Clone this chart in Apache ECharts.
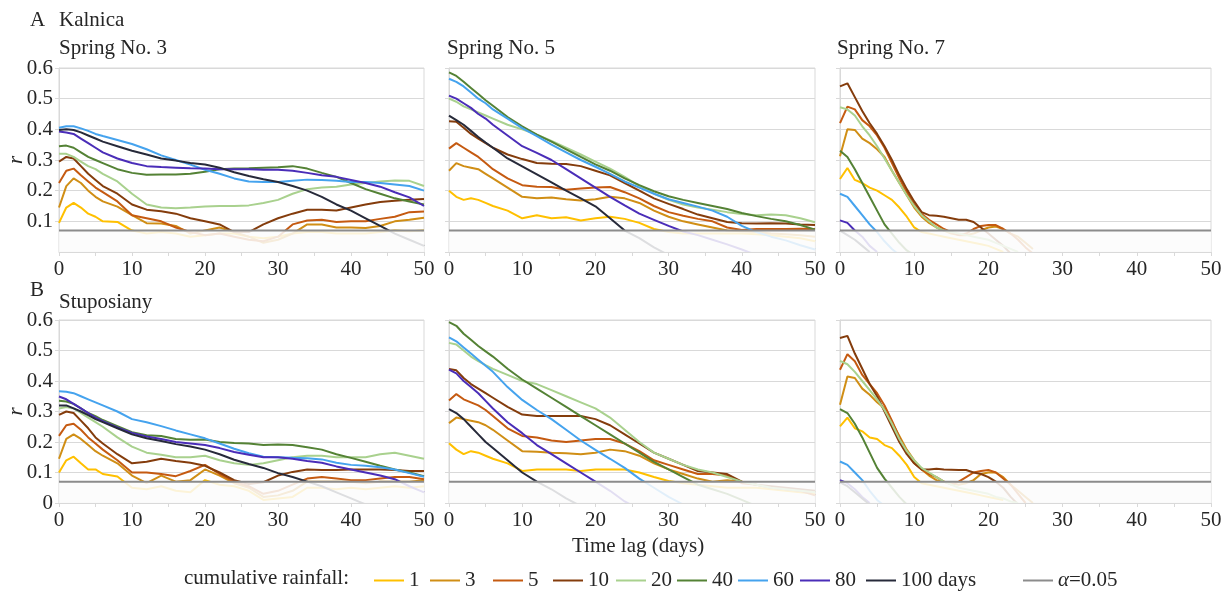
<!DOCTYPE html>
<html>
<head>
<meta charset="utf-8">
<script src="https://cdn.jsdelivr.net/npm/echarts@6/dist/echarts.min.js"></script>
<style>
  html, body { margin: 0; padding: 0; background: #fff; }
  #container { width: 1230px; height: 592px; }
</style>
</head>
<body>
<div id="container"></div>
<script>
// time lag (days) sampled for the long panels and the short ones
const wideDays = [0, 1, 2, 3, 4, 5, 6, 8, 10, 12, 14, 16, 18, 20, 22, 24, 26, 28, 30, 32, 34, 36, 38, 40, 42, 44, 46, 48, 50];
const narrowDays = [0, 1, 2, 3, 4, 5, 6, 7, 8, 9, 10, 11, 12, 13, 14, 15, 16, 17, 18, 19, 20, 21, 22, 23, 24, 25, 26];

const rainfallNames = ['1', '3', '5', '10', '20', '40', '60', '80', '100 days'];
const rainfallColors = ['#FFC000', '#D08E15', '#C55A11', '#843C0C', '#A9D18E', '#548235', '#45A3EE', '#4A2DB8', '#272A3A'];
const alphaName = 'α=0.05';
const alphaLevel = 0.07;

// rows: 1, 3, 5, 10, 20, 40, 60, 80, 100 days
const kalnicaNo3 = [
    [0.095,0.145,0.16,0.145,0.125,0.115,0.1,0.098,0.07,0.06,0.065,0.06,0.05,0.055,0.06,0.06,0.05,0.045,0.05,0.06,0.065,0.065,0.06,0.06,0.06,0.065,0.07,0.068,0.07],
    [0.145,0.215,0.24,0.225,0.2,0.18,0.165,0.148,0.12,0.094,0.093,0.085,0.06,0.07,0.08,0.065,0.05,0.03,0.04,0.06,0.09,0.09,0.08,0.08,0.078,0.085,0.1,0.105,0.112],
    [0.225,0.265,0.272,0.25,0.23,0.21,0.195,0.165,0.12,0.11,0.1,0.08,0.065,0.055,0.06,0.05,0.04,0.035,0.05,0.09,0.103,0.105,0.098,0.1,0.1,0.108,0.115,0.13,0.132],
    [0.295,0.31,0.305,0.28,0.255,0.235,0.215,0.19,0.155,0.138,0.133,0.125,0.11,0.1,0.09,0.065,0.065,0.09,0.11,0.125,0.138,0.138,0.135,0.145,0.155,0.163,0.167,0.17,0.173],
    [0.32,0.32,0.31,0.295,0.28,0.27,0.255,0.23,0.19,0.155,0.145,0.143,0.145,0.148,0.15,0.15,0.152,0.16,0.17,0.19,0.205,0.21,0.213,0.22,0.225,0.23,0.233,0.232,0.215],
    [0.345,0.347,0.34,0.325,0.31,0.3,0.29,0.27,0.258,0.252,0.253,0.253,0.255,0.262,0.27,0.272,0.273,0.275,0.276,0.28,0.272,0.258,0.245,0.225,0.205,0.19,0.175,0.165,0.155],
    [0.405,0.41,0.41,0.403,0.395,0.385,0.378,0.365,0.352,0.335,0.315,0.3,0.285,0.268,0.255,0.24,0.23,0.228,0.228,0.232,0.236,0.235,0.232,0.228,0.228,0.225,0.22,0.215,0.2],
    [0.393,0.39,0.385,0.37,0.355,0.34,0.325,0.305,0.29,0.28,0.277,0.275,0.273,0.272,0.27,0.27,0.27,0.268,0.268,0.265,0.258,0.25,0.245,0.235,0.225,0.213,0.195,0.178,0.15],
    [0.398,0.4,0.398,0.39,0.38,0.37,0.36,0.345,0.33,0.318,0.305,0.298,0.29,0.285,0.275,0.26,0.248,0.237,0.228,0.215,0.2,0.18,0.155,0.135,0.11,0.085,0.06,0.04,0.02]
];

const kalnicaNo5 = [
    [0.2,0.18,0.17,0.175,0.17,0.16,0.15,0.135,0.11,0.12,0.11,0.113,0.103,0.11,0.115,0.108,0.095,0.075,0.065,0.06,0.06,0.06,0.06,0.06,0.058,0.055,0.05,0.045,0.035],
    [0.265,0.29,0.28,0.275,0.27,0.255,0.24,0.21,0.18,0.175,0.178,0.172,0.168,0.172,0.18,0.175,0.16,0.135,0.115,0.1,0.09,0.08,0.07,0.068,0.065,0.06,0.058,0.055,0.05],
    [0.337,0.355,0.34,0.325,0.31,0.29,0.27,0.24,0.218,0.213,0.212,0.203,0.207,0.21,0.212,0.195,0.175,0.15,0.13,0.118,0.108,0.1,0.08,0.072,0.075,0.075,0.075,0.076,0.075],
    [0.426,0.425,0.405,0.385,0.37,0.355,0.34,0.318,0.303,0.29,0.288,0.287,0.28,0.265,0.25,0.225,0.2,0.175,0.157,0.14,0.122,0.11,0.098,0.094,0.093,0.094,0.093,0.09,0.088],
    [0.5,0.49,0.475,0.465,0.455,0.445,0.435,0.415,0.4,0.383,0.362,0.34,0.318,0.295,0.272,0.245,0.215,0.19,0.17,0.155,0.145,0.138,0.13,0.124,0.12,0.122,0.12,0.11,0.097],
    [0.586,0.574,0.555,0.535,0.515,0.495,0.477,0.44,0.41,0.383,0.36,0.335,0.31,0.286,0.265,0.24,0.218,0.198,0.182,0.17,0.16,0.15,0.14,0.127,0.117,0.108,0.1,0.088,0.073],
    [0.565,0.555,0.54,0.52,0.5,0.485,0.465,0.435,0.404,0.378,0.35,0.325,0.3,0.278,0.255,0.23,0.21,0.19,0.172,0.16,0.148,0.135,0.115,0.085,0.065,0.05,0.038,0.022,0.008],
    [0.51,0.5,0.485,0.47,0.45,0.435,0.415,0.38,0.345,0.323,0.3,0.27,0.24,0.21,0.18,0.152,0.125,0.105,0.085,0.067,0.055,0.04,0.025,0.008,-0.01],
    [0.445,0.43,0.415,0.395,0.375,0.357,0.34,0.305,0.279,0.253,0.227,0.2,0.175,0.149,0.11,0.07,0.045,0.015,-0.01]
];

const kalnicaNo7 = [
    [0.238,0.274,0.235,0.225,0.21,0.2,0.185,0.17,0.145,0.115,0.08,0.065,0.06,0.055,0.05,0.045,0.04,0.035,0.03,0.025,0.02,0.01,0.0],
    [0.312,0.4,0.398,0.37,0.355,0.335,0.31,0.265,0.225,0.185,0.145,0.115,0.095,0.08,0.07,0.06,0.055,0.055,0.06,0.07,0.08,0.083,0.075,0.06,0.05,0.03,0.01],
    [0.42,0.474,0.465,0.43,0.41,0.38,0.34,0.29,0.24,0.195,0.155,0.125,0.105,0.09,0.075,0.065,0.055,0.06,0.075,0.085,0.088,0.088,0.075,0.06,0.04,0.015,-0.005],
    [0.54,0.55,0.505,0.46,0.42,0.385,0.345,0.3,0.25,0.205,0.165,0.13,0.12,0.118,0.115,0.11,0.105,0.105,0.098,0.08,0.06,0.04,0.02,-0.005],
    [0.472,0.465,0.445,0.41,0.38,0.345,0.305,0.265,0.225,0.185,0.15,0.12,0.1,0.08,0.07,0.065,0.06,0.055,0.05,0.045,0.04,0.03,0.02,0.01,0.0],
    [0.33,0.31,0.27,0.225,0.18,0.135,0.09,0.06,0.03,0.005,-0.01],
    [0.19,0.18,0.15,0.12,0.09,0.065,0.035,0.01,-0.01],
    [0.103,0.095,0.07,0.05,0.02,0.0],
    [0.07,0.055,0.04,0.02,0.0]
];

const stuposianyNo3 = [
    [0.1,0.14,0.152,0.13,0.11,0.11,0.095,0.087,0.05,0.045,0.055,0.04,0.035,0.075,0.06,0.055,0.04,0.01,0.015,0.02,0.05,0.05,0.045,0.05,0.045,0.05,0.055,0.05,0.055],
    [0.145,0.21,0.225,0.21,0.19,0.17,0.155,0.13,0.09,0.065,0.09,0.07,0.075,0.11,0.09,0.065,0.05,0.02,0.025,0.04,0.07,0.07,0.07,0.07,0.065,0.07,0.07,0.07,0.075],
    [0.22,0.255,0.26,0.24,0.215,0.195,0.175,0.14,0.1,0.1,0.095,0.088,0.105,0.125,0.095,0.07,0.055,0.03,0.04,0.06,0.08,0.085,0.08,0.075,0.075,0.08,0.085,0.085,0.078],
    [0.289,0.3,0.295,0.27,0.245,0.215,0.195,0.16,0.13,0.135,0.145,0.138,0.132,0.122,0.1,0.075,0.062,0.068,0.09,0.102,0.11,0.108,0.108,0.11,0.11,0.11,0.108,0.105,0.105],
    [0.31,0.315,0.31,0.295,0.28,0.265,0.25,0.215,0.185,0.165,0.158,0.15,0.15,0.155,0.14,0.13,0.125,0.13,0.14,0.15,0.155,0.155,0.15,0.15,0.15,0.16,0.165,0.155,0.145],
    [0.335,0.333,0.325,0.31,0.295,0.285,0.272,0.252,0.232,0.222,0.22,0.21,0.207,0.208,0.2,0.197,0.195,0.19,0.192,0.19,0.183,0.175,0.16,0.148,0.135,0.122,0.11,0.1,0.088],
    [0.366,0.365,0.36,0.35,0.34,0.33,0.32,0.3,0.275,0.265,0.252,0.238,0.225,0.212,0.195,0.178,0.163,0.152,0.15,0.148,0.147,0.143,0.132,0.125,0.122,0.117,0.11,0.098,0.086],
    [0.349,0.34,0.325,0.31,0.295,0.28,0.268,0.248,0.23,0.218,0.21,0.2,0.195,0.19,0.18,0.167,0.158,0.15,0.15,0.145,0.138,0.132,0.12,0.11,0.1,0.09,0.078,0.055,0.035],
    [0.32,0.32,0.31,0.3,0.288,0.275,0.265,0.245,0.225,0.212,0.203,0.193,0.185,0.175,0.16,0.142,0.128,0.115,0.098,0.085,0.07,0.055,0.035,0.015,-0.005]
];

const stuposianyNo5 = [
    [0.196,0.175,0.16,0.17,0.165,0.155,0.145,0.13,0.105,0.11,0.11,0.11,0.105,0.11,0.11,0.11,0.1,0.085,0.072,0.065,0.06,0.055,0.05,0.05,0.05,0.045,0.04,0.035,0.03],
    [0.262,0.28,0.275,0.27,0.265,0.255,0.24,0.205,0.17,0.168,0.165,0.163,0.16,0.165,0.175,0.17,0.155,0.13,0.11,0.095,0.08,0.07,0.075,0.07,0.06,0.05,0.045,0.04,0.035],
    [0.336,0.357,0.34,0.33,0.32,0.305,0.285,0.245,0.22,0.215,0.205,0.2,0.205,0.21,0.21,0.195,0.17,0.14,0.125,0.11,0.095,0.095,0.09,0.065,0.06,0.05,0.045,0.04,0.025],
    [0.439,0.435,0.41,0.39,0.375,0.36,0.345,0.315,0.29,0.285,0.285,0.285,0.285,0.275,0.255,0.225,0.195,0.165,0.145,0.125,0.105,0.1,0.095,0.07,0.06,0.055,0.05,0.045,0.04],
    [0.525,0.52,0.5,0.48,0.465,0.452,0.44,0.42,0.4,0.39,0.37,0.35,0.33,0.31,0.28,0.24,0.2,0.165,0.145,0.125,0.11,0.1,0.085,0.07,0.06,0.05,0.045,0.04,0.035],
    [0.593,0.581,0.555,0.535,0.515,0.497,0.48,0.44,0.405,0.375,0.345,0.315,0.285,0.255,0.225,0.195,0.165,0.135,0.11,0.085,0.06,0.045,0.03,0.01,-0.01],
    [0.543,0.53,0.51,0.49,0.47,0.45,0.43,0.38,0.338,0.305,0.275,0.24,0.205,0.174,0.145,0.115,0.08,0.05,0.02,-0.005],
    [0.437,0.425,0.4,0.38,0.36,0.335,0.31,0.265,0.229,0.19,0.16,0.13,0.1,0.07,0.04,0.005,-0.02],
    [0.308,0.295,0.275,0.25,0.225,0.2,0.18,0.14,0.1,0.07,0.045,0.015,-0.01]
];

const stuposianyNo7 = [
    [0.251,0.28,0.245,0.235,0.215,0.21,0.19,0.18,0.155,0.125,0.085,0.065,0.06,0.055,0.05,0.045,0.04,0.035,0.03,0.025,0.02,0.015,0.01],
    [0.322,0.415,0.41,0.375,0.355,0.33,0.31,0.265,0.22,0.175,0.14,0.11,0.09,0.075,0.07,0.065,0.06,0.065,0.075,0.095,0.1,0.1,0.085,0.06,0.04,0.02,0.0],
    [0.437,0.488,0.465,0.42,0.39,0.36,0.32,0.27,0.215,0.165,0.13,0.11,0.095,0.085,0.07,0.06,0.07,0.085,0.1,0.105,0.108,0.1,0.08,0.06,0.03,0.0],
    [0.541,0.548,0.49,0.44,0.39,0.35,0.3,0.25,0.2,0.16,0.13,0.11,0.11,0.112,0.11,0.109,0.108,0.108,0.1,0.095,0.085,0.07,0.05,0.02,-0.005],
    [0.466,0.455,0.43,0.4,0.37,0.34,0.305,0.26,0.21,0.17,0.14,0.115,0.1,0.085,0.07,0.06,0.05,0.045,0.04,0.035,0.03,0.02,0.015,0.005,0.0],
    [0.308,0.295,0.26,0.215,0.165,0.115,0.08,0.05,0.02,-0.005],
    [0.136,0.125,0.1,0.075,0.04,0.01,-0.01],
    [0.075,0.065,0.045,0.02,0.0],
    [0.068,0.055,0.035,0.015,-0.005]
];

const panels = [
    { days: wideDays, rows: kalnicaNo3 },
    { days: wideDays, rows: kalnicaNo5 },
    { days: narrowDays, rows: kalnicaNo7 },
    { days: wideDays, rows: stuposianyNo3 },
    { days: wideDays, rows: stuposianyNo5 },
    { days: narrowDays, rows: stuposianyNo7 }
];

const FONT = '"Liberation Serif", "Times New Roman", serif';
const TEXT_COLOR = '#262626';
const GRID_COLOR = '#D9D9D9';
const colLeft = [59, 449, 840];
const colWidth = [365, 366, 371];
const rowTop = [68, 320];
const rowHeight = [184, 183];

const dom = document.getElementById('container');
const myChart = echarts.init(dom);

const grids = [], xAxes = [], yAxes = [], series = [];

panels.forEach((panel, p) => {
    const row = Math.floor(p / 3), col = p % 3;
    grids.push({
        left: colLeft[col], top: rowTop[row], width: colWidth[col], height: rowHeight[row],
        show: true, borderColor: GRID_COLOR, borderWidth: 1, backgroundColor: 'transparent'
    });
    xAxes.push({
        type: 'value', gridIndex: p, min: 0, max: 50, interval: 10, z: 6,
        axisLine: { show: true, lineStyle: { color: GRID_COLOR, width: 1 } },
        axisTick: { show: true, length: 4, lineStyle: { color: GRID_COLOR } },
        minorTick: { show: true, splitNumber: 2, length: 4, lineStyle: { color: GRID_COLOR } },
        splitLine: { show: false },
        axisLabel: { color: TEXT_COLOR, fontFamily: FONT, fontSize: 21, margin: 7 }
    });
    yAxes.push({
        type: 'value', gridIndex: p, min: 0, max: 0.6, interval: 0.1,
        axisLine: { show: true, lineStyle: { color: GRID_COLOR, width: 1 } },
        axisTick: { show: true, length: 4, lineStyle: { color: GRID_COLOR } },
        splitLine: { show: true, lineStyle: { color: GRID_COLOR, width: 1 } },
        axisLabel: {
            show: col === 0, showMinLabel: row === 1,
            color: TEXT_COLOR, fontFamily: FONT, fontSize: 21, margin: 6,
            formatter: v => (v === 0 ? '0' : v.toFixed(1))
        }
    });

    panel.rows.forEach((values, i) => {
        series.push({
            name: rainfallNames[i], type: 'line', xAxisIndex: p, yAxisIndex: p,
            data: values.map((v, k) => [panel.days[k], v]),
            showSymbol: false, symbol: 'none', z: 2,
            color: rainfallColors[i],
            lineStyle: { width: 2, color: rainfallColors[i] },
            emphasis: { disabled: true }
        });
    });

    // pale veil over everything below the significance level
    series.push({
        name: 'veil', type: 'custom', xAxisIndex: p, yAxisIndex: p, z: 4, silent: true,
        data: [[0, 0, 50, alphaLevel]],
        encode: { x: [0, 2], y: [1, 3] },
        renderItem: function (params, api) {
            const a = api.coord([api.value(0), api.value(1)]);
            const b = api.coord([api.value(2), api.value(3)]);
            return {
                type: 'rect',
                shape: { x: a[0], y: b[1], width: b[0] - a[0], height: a[1] - b[1] },
                style: { fill: 'rgba(251,251,251,0.86)' }
            };
        }
    });
    series.push({
        name: alphaName, type: 'line', xAxisIndex: p, yAxisIndex: p, z: 5,
        data: [[0, alphaLevel], [50, alphaLevel]], showSymbol: false, symbol: 'none',
        color: '#8C8C8C',
        lineStyle: { width: 2, color: '#8C8C8C' },
        emphasis: { disabled: true }
    });
});

// one legend per item so the spacing follows the original
const legendNames = rainfallNames.concat([alphaName]);
const legendColors = rainfallColors.concat(['#8C8C8C']);
const legendLeft = [369, 425, 488, 548, 611, 672, 733, 795, 861, 1018];
const legends = legendNames.map((name, i) => ({
    data: [{ name: name, itemStyle: { color: legendColors[i] } }],
    left: legendLeft[i], top: 565,
    icon: 'rect', itemWidth: 30, itemHeight: 2,
    selectedMode: false,
    textStyle: {
        color: TEXT_COLOR, fontFamily: FONT, fontSize: 21,
        rich: { it: { fontStyle: 'italic', fontFamily: FONT, fontSize: 21, color: TEXT_COLOR } }
    },
    formatter: n => (n === alphaName ? '{it|α}=0.05' : n)
}));

const textStyle = { fill: TEXT_COLOR, font: '21px ' + FONT };
function label(x, y, text) {
    return { type: 'text', left: x, top: y, silent: true, style: Object.assign({ text: text }, textStyle) };
}
// italic "r" for the y axes, turned to read upwards
function axisTitle(y) {
    return {
        type: 'text', x: 16, y: y, rotation: Math.PI / 2, silent: true,
        style: { text: 'r', fill: TEXT_COLOR, font: 'italic 21px ' + FONT, align: 'center', verticalAlign: 'middle' }
    };
}

const option = {
    animation: false,
    backgroundColor: '#fff',
    grid: grids,
    xAxis: xAxes,
    yAxis: yAxes,
    legend: legends,
    series: series,
    graphic: [
        label(30, 10, 'A'),
        label(59, 10, 'Kalnica'),
        label(59, 38, 'Spring No. 3'),
        label(447, 38, 'Spring No. 5'),
        label(837, 38, 'Spring No. 7'),
        label(30, 280, 'B'),
        label(59, 292, 'Stuposiany'),
        label(572, 536, 'Time lag (days)'),
        label(184, 568, 'cumulative rainfall:'),
        axisTitle(rowTop[0] + rowHeight[0] / 2),
        axisTitle(rowTop[1] + rowHeight[1] / 2)
    ]
};

myChart.setOption(option);
</script>
</body>
</html>
